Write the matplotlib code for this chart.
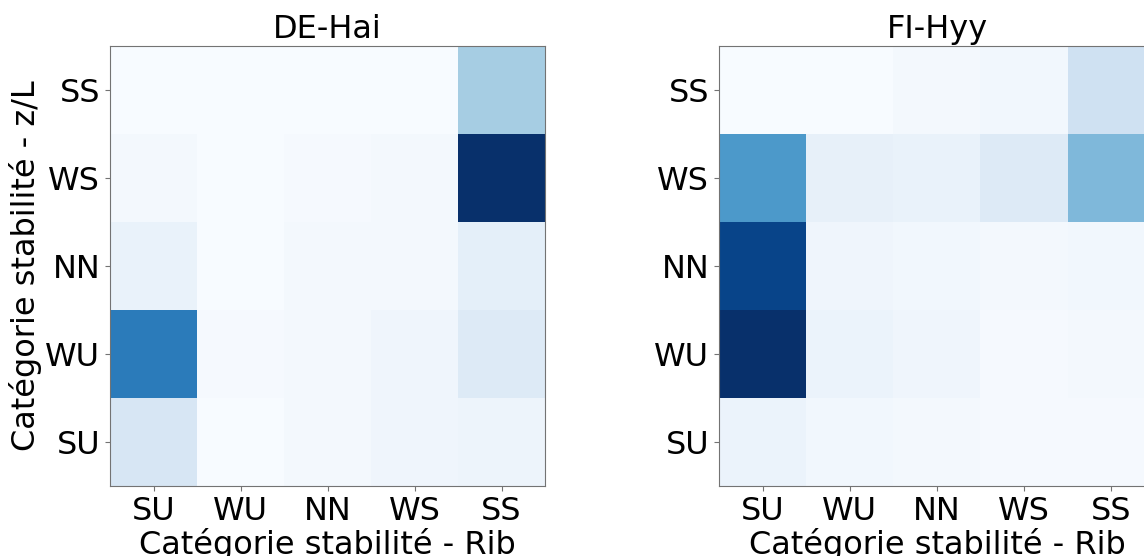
import matplotlib
matplotlib.use('Agg')
import matplotlib.pyplot as plt
import numpy as np

categories = ['SU', 'WU', 'NN', 'WS', 'SS']

# rows = z/L category (SU at bottom), columns = Rib category
de_hai = np.array([
    [0.16, 0.00, 0.02, 0.04, 0.05],   # SU
    [0.71, 0.01, 0.02, 0.04, 0.13],   # WU
    [0.07, 0.00, 0.02, 0.02, 0.09],   # NN
    [0.02, 0.00, 0.01, 0.02, 1.00],   # WS
    [0.00, 0.00, 0.00, 0.00, 0.35],   # SS
])

fi_hyy = np.array([
    [0.06, 0.03, 0.02, 0.01, 0.01],   # SU
    [1.00, 0.06, 0.04, 0.01, 0.02],   # WU
    [0.92, 0.04, 0.03, 0.02, 0.03],   # NN
    [0.59, 0.08, 0.07, 0.13, 0.45],   # WS
    [0.00, 0.00, 0.02, 0.03, 0.20],   # SS
])

sites = ['DE-Hai', 'FI-Hyy']
matrices = [de_hai, fi_hyy]

W, H = 1144, 556
fig = plt.figure(figsize=(W / 100, H / 100), dpi=100)
boxes = [(110, 70, 435, 440), (719, 70, 436, 440)]

for i, (name, mat, box) in enumerate(zip(sites, matrices, boxes)):
    x0, y0, w, h = box
    ax = fig.add_axes([x0 / W, y0 / H, w / W, h / H])
    ax.imshow(mat, cmap='Blues', origin='lower', aspect='auto')
    ax.set_xticks(range(5))
    ax.set_xticklabels(categories)
    ax.set_yticks(range(5))
    ax.set_yticklabels(categories)
    ax.tick_params(labelsize=23, color='0.45')
    for s in ax.spines.values():
        s.set_color('0.45')
    ax.set_title(name, fontsize=23)
    ax.set_xlabel('Catégorie stabilité - Rib', fontsize=23, labelpad=1)
    if i == 0:
        ax.set_ylabel('Catégorie stabilité - z/L', fontsize=23, labelpad=2)

fig.savefig('out.png', dpi=100)
